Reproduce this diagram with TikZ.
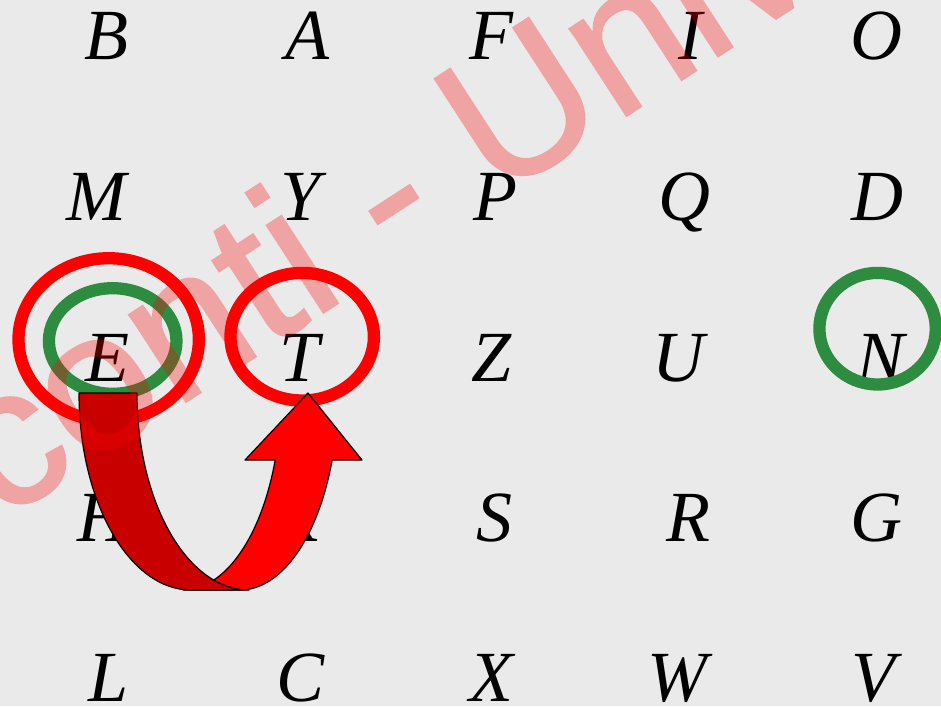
\documentclass[tikz,border=0pt]{standalone}
\usepackage{fontspec}
\setmainfont{Liberation Serif}
\newfontfamily\wmfont[FakeBold=1]{Liberation Sans}
\definecolor{bg}{RGB}{234,234,234}
\definecolor{ringgreen}{RGB}{46,140,65}
\definecolor{arrowdark}{RGB}{200,0,0}
\definecolor{arrowbright}{RGB}{255,0,0}
\begin{document}
\begin{tikzpicture}[x=1pt,y=-1pt,
  letter/.style={anchor=base, inner sep=0pt, font=\fontsize{72}{72}\selectfont\itshape},
  redring/.style={draw=red, line width=12.3pt},
  greenring/.style={draw=ringgreen, line width=12.3pt},
  band/.style={draw=black, line width=1.2pt, line join=round},
  wm/.style={rotate=33, anchor=base west, inner sep=0pt, text=red,
    font=\wmfont\fontsize{197}{197}\selectfont}]
\useasboundingbox (0,0) rectangle (941,706);
\fill[bg] (0,0) rectangle (941,706);
\clip (0,0) rectangle (941,706);
% row 1
\node[letter] (B) at (106,60) {B};
\node[letter] (A) at (307,60) {A};
\node[letter] (F) at (491,60) {F};
\node[letter] (I) at (690,60) {I};
\node[letter] (O) at (876,60) {O};
% row 2
\node[letter] (M) at (96,220) {M};
\node[letter] (Y) at (301,220) {Y};
\node[letter] (P) at (495,220) {P};
\node[letter] (Q) at (684,220) {Q};
\node[letter] (D) at (877,220) {D};
% row 3
\node[letter] (E) at (107,381) {E};
\node[letter] (T) at (300,381) {T};
\node[letter] (Z) at (492,381) {Z};
\node[letter] (U) at (678,381) {U};
\node[letter] (N) at (880,381) {N};
% row 4
\node[letter] (H) at (103,541) {H};
\node[letter] (K) at (296,541) {K};
\node[letter] (S) at (494,541) {S};
\node[letter] (R) at (688,541) {R};
\node[letter] (G) at (876,541) {G};
% row 5
\node[letter] (L) at (109,701) {L};
\node[letter] (C) at (301,701) {C};
\node[letter] (X) at (491,701) {X};
\node[letter] (W) at (677,701) {W};
\node[letter] (V) at (873,701) {V};
% rings
\draw[redring] (108.7,339.5) ellipse [x radius=90.2pt, y radius=81.3pt];
\draw[greenring] (112.7,341) ellipse [x radius=63.8pt, y radius=52.8pt];
\draw[redring] (302.2,336.7) ellipse [x radius=71.7pt, y radius=63.8pt];
\draw[greenring] (877.6,328.7) ellipse [x radius=58.2pt, y radius=55.8pt];
% U-turn arrow: front band with head
\filldraw[band, fill=arrowbright] (240,590)
  arc[start angle=270, end angle=340.1, x radius=98pt, y radius=197pt]
  -- (362,460) -- (308,393) -- (245,460) -- (275.2,460)
  arc[start angle=340.1, end angle=270, x radius=98pt, y radius=197pt] -- cycle;
% back band
\filldraw[band, fill=arrowdark] (79,393)
  arc[start angle=180, end angle=270, x radius=112pt, y radius=197pt]
  -- (249,590)
  arc[start angle=270, end angle=180, x radius=112pt, y radius=197pt] -- cycle;
% watermark
\coordinate (wmbase) at (0,522.7);
\begin{scope}[transparency group, opacity=0.3]
\node[wm] (wmtext) at (wmbase) {conti - Univ};
\end{scope}
\end{tikzpicture}
\end{document}
